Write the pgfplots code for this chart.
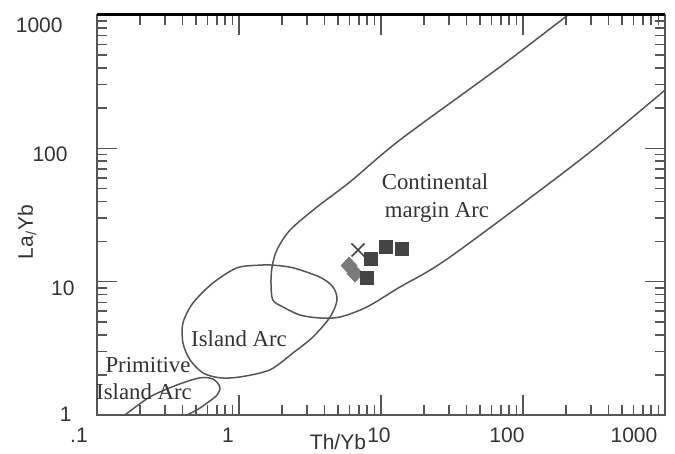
\documentclass[border=0pt]{standalone}
\usepackage{pgfplots}
\pgfplotsset{compat=1.18}
\usepackage{fontspec}
\setmainfont{Liberation Serif}
\newfontfamily\arial{Liberation Sans}
\definecolor{lc}{HTML}{555555}
\definecolor{tc}{HTML}{333333}
\definecolor{sq}{HTML}{444444}
\definecolor{dm}{HTML}{7A7A7A}
\begin{document}
\begin{tikzpicture}[x=1pt,y=1pt]
\useasboundingbox (-48.5,-19.5) rectangle (289,207.5);
\begin{axis}[
  at={(0,0)}, anchor=south west,
  scale only axis, width=284pt, height=200pt,
  xmode=log, ymode=log,
  xmin=0.1, xmax=1000, ymin=1, ymax=1000,
  enlargelimits=false,
  xtick={0.1,1,10,100,1000}, ytick={1,10,100,1000},
  minor xtick={0.2,0.3,0.4,0.5,0.6,0.7,0.8,0.9,2,3,4,5,6,7,8,9,20,30,40,50,60,70,80,90,200,300,400,500,600,700,800,900},
  minor ytick={2,3,4,5,6,7,8,9,20,30,40,50,60,70,80,90,200,300,400,500,600,700,800,900},
  xticklabel=\empty, yticklabel=\empty,
  axis line style={lc, line width=0.9pt},
  every tick/.style={lc, line width=0.8pt},
  major tick length=10pt, minor tick length=5pt,
  tick align=inside,
  xtick pos=both, ytick pos=both,
]
% Continental margin arc envelope
\addplot[lc, line width=0.75pt, smooth, tension=0.5] coordinates {
(239,1122) (207.5,1000) (68.9,408) (13.6,115.6) (6.05,56.0) (3.54,36.3)
(2.29,24.4) (1.85,17.3) (1.71,12.9) (1.68,9.78) (1.73,7.29) (2.04,6.46)
(2.69,5.62) (3.72,5.34) (5.14,5.43) (7.96,6.46) (13.6,9.12) (30.6,15.3)
(252,81.8) (968,265) (1120,301)
};
% Island arc
\addplot[lc, line width=0.75pt, smooth cycle, tension=0.5] coordinates {
(1.41,13.3) (0.969,12.7) (0.656,9.78) (0.474,6.92) (0.403,4.90) (0.403,3.47)
(0.452,2.59) (0.557,2.07) (0.734,1.90) (1.02,1.93) (1.65,2.18) (2.40,2.92)
(3.32,3.85) (4.38,5.43) (4.90,7.29) (4.59,9.12) (3.72,10.8) (2.40,12.7) (1.73,13.3)
};
% Primitive island arc
\addplot[lc, line width=0.75pt, smooth, tension=0.5] coordinates {
(0.134,0.886) (0.157,1) (0.236,1.365) (0.366,1.68) (0.531,1.90) (0.656,1.86)
(0.734,1.62) (0.700,1.41) (0.596,1.23) (0.506,1.09) (0.431,1) (0.372,0.886)
};
% samples
\addplot[only marks, mark=diamond*, mark size=4.2pt, color=dm, mark options={fill=dm, draw=dm, xscale=1.25}] coordinates {(5.96,13.2) (6.56,11.5)};
\addplot[only marks, mark=x, mark size=4.6pt, color=sq, mark options={line width=0.8pt}] coordinates {(6.89,17.3)};
\addplot[only marks, mark=square*, mark size=3.3pt, color=sq, mark options={fill=sq, draw=sq}] coordinates {(8.51,14.8) (10.8,18.2) (14.1,17.6) (7.96,10.7)};
\end{axis}
\draw[black, line width=1.5pt] (0,200) -- (284,200);
% region labels
\begin{scope}[every node/.style={text=tc, font=\fontsize{11.4pt}{13pt}\selectfont, inner sep=0pt}]
\node[anchor=base] at (169,112.5) {Continental};
\node[anchor=base] at (170,98.5) {margin Arc};
\node[anchor=base] at (71,34) {Island Arc};
\node[anchor=base] at (25.5,21) {Primitive};
\node[anchor=base] at (23.5,7.5) {Island Arc};
\end{scope}
% tick labels
\begin{scope}[every node/.style={text=tc, font=\arial\fontsize{10.5pt}{12pt}\selectfont, inner sep=0pt}]
\node[anchor=base] at (-9,-14) {.1};
\node[anchor=base] at (65.5,-14) {1};
\node[anchor=base] at (141,-14) {10};
\node[anchor=base] at (205,-14) {100};
\node[anchor=base] at (268.5,-14) {1000};
\node[anchor=base east] at (-17,191) {1000};
\node[anchor=base east] at (-14.5,126.5) {100};
\node[anchor=base east] at (-11,59.5) {10};
\node[anchor=base east] at (-12.5,-3.5) {1};
\node[anchor=base] at (120.5,-17.5) {Th/Yb};
\node[anchor=base, rotate=90] at (-32,91.5) {La\textsubscript{/}Yb};
\end{scope}
\end{tikzpicture}
\end{document}
